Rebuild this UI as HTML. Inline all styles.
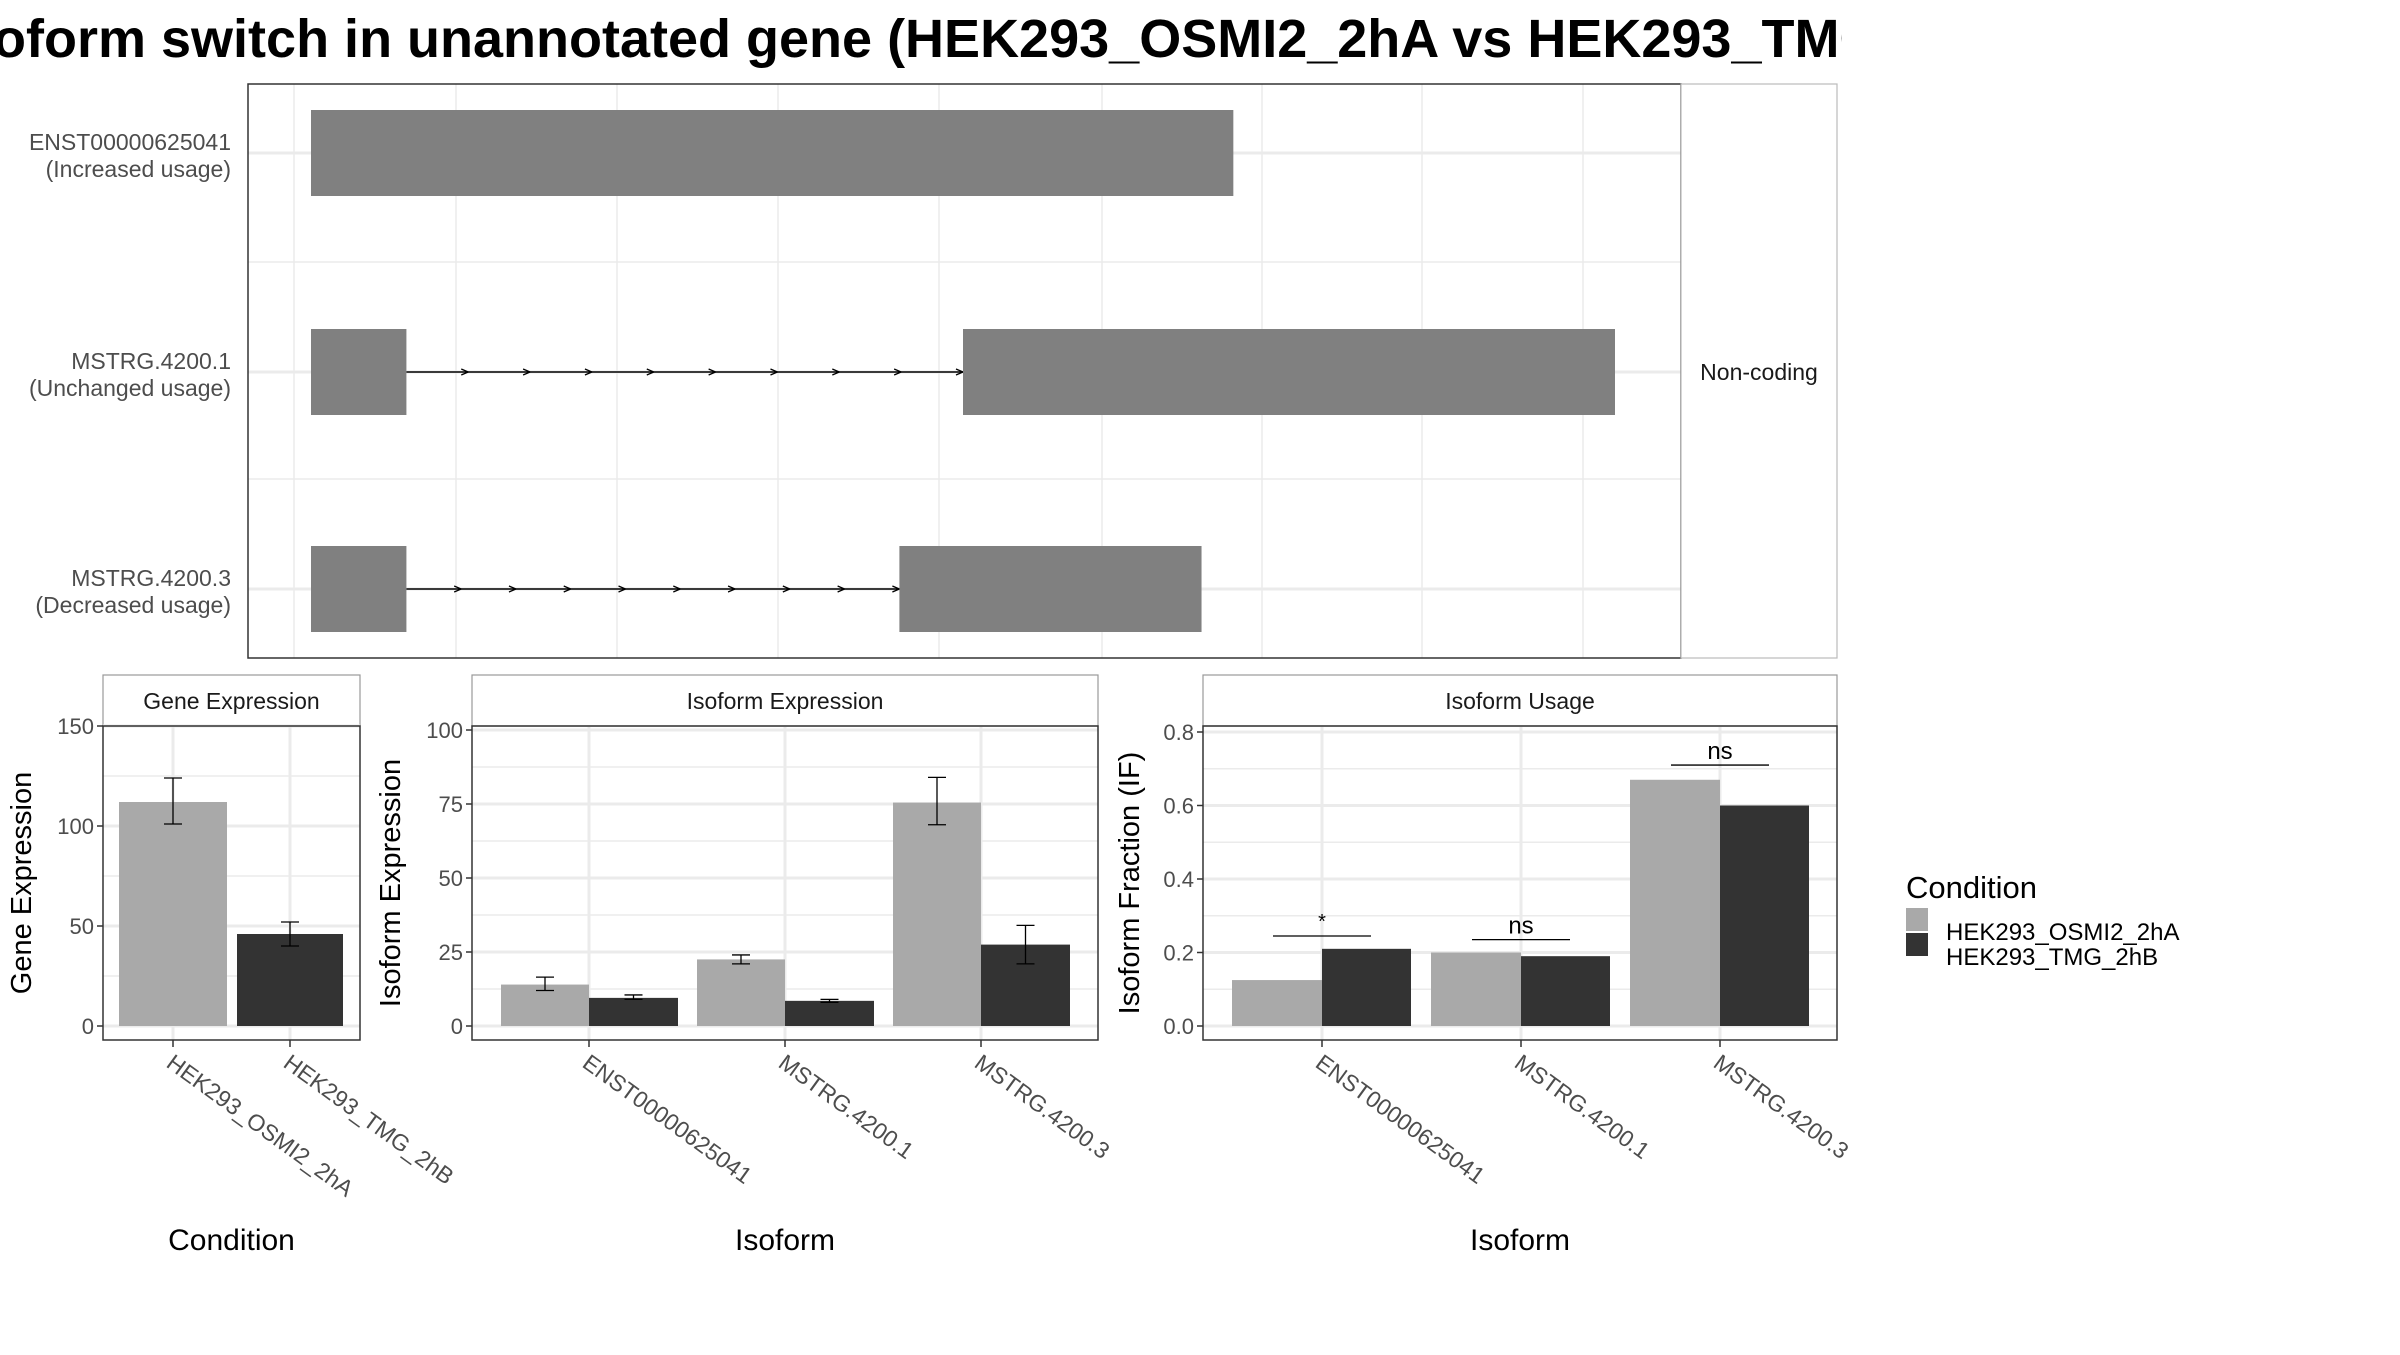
<!DOCTYPE html>
<html><head><meta charset="utf-8"><style>
body{margin:0;background:#fff;width:2400px;height:1350px;overflow:hidden}
svg text{font-family:"Liberation Sans",sans-serif}
</style></head><body>
<svg id="c" width="2400" height="1350" xmlns="http://www.w3.org/2000/svg">
<defs>
<clipPath id="tclip"><rect x="0" y="0" width="1842" height="80"/></clipPath>
<marker id="arr" markerWidth="10" markerHeight="10" refX="8" refY="4" orient="auto" markerUnits="userSpaceOnUse"><path d="M1,1 L8,4 L1,7" fill="none" stroke="#000" stroke-width="1.3"/></marker>
</defs>
<g clip-path="url(#tclip)"><text x="-52" y="57" font-size="54" font-weight="bold" fill="#000">Isoform switch in unannotated gene (HEK293_OSMI2_2hA vs HEK293_TMG_2hB)</text></g>
<g id="topPanel"></g>
<g id="bottomPanels"></g>
<g>
<text x="1906" y="898" font-size="31" fill="#000">Condition</text>
<rect x="1906" y="908" width="22" height="23" fill="#A9A9A9"/>
<rect x="1906" y="933" width="22" height="23" fill="#333333"/>
<text x="1946" y="940" font-size="24" fill="#000">HEK293_OSMI2_2hA</text>
<text x="1946" y="965" font-size="24" fill="#000">HEK293_TMG_2hB</text>
</g>
</svg>
<script>
// ---- Transcript structure data (genomic units) ----
const txNames = ["ENST00000625041","MSTRG.4200.1","MSTRG.4200.3"];
const txSub = ["(Increased usage)","(Unchanged usage)","(Decreased usage)"];
const txExons = [[[1,59]],[[1,7],[42,83]],[[1,7],[38,57]]];
// ---- Expression data ----
const conditions = ["HEK293_OSMI2_2hA","HEK293_TMG_2hB"];
const geneExpr = [112, 46];
const geneLo = [101, 40];
const geneHi = [124, 52];
const isoforms = ["ENST00000625041","MSTRG.4200.1","MSTRG.4200.3"];
const isoExprA = [14, 22.5, 75.5];
const isoExprB = [9.5, 8.5, 27.5];
const isoLoA = [12, 21, 68];
const isoHiA = [16.5, 24, 84];
const isoLoB = [9, 8, 21];
const isoHiB = [10.5, 9, 34];
const ifA = [0.125, 0.2, 0.67];
const ifB = [0.21, 0.19, 0.60];
const sigLabels = ["*","ns","ns"];
const sigY = [0.245, 0.235, 0.71];
const geneTicks = [0,50,100,150];
const isoTicks = [0,25,50,75,100];
const ifTicks = [0,0.2,0.4,0.6,0.8];
const ifTickLabels = ["0.0","0.2","0.4","0.6","0.8"];

const NS="http://www.w3.org/2000/svg";
function mk(tag,attrs,parent,txt){const e=document.createElementNS(NS,tag);for(const k in attrs)e.setAttribute(k,attrs[k]);if(txt!==undefined)e.textContent=txt;parent.appendChild(e);return e;}
const topG=document.getElementById('topPanel'), botG=document.getElementById('bottomPanels');

// Top panel
const TX0=248,TX1=1681,TY0=84,TY1=658;
function gX(v){return 311+(v-1)*((1615-311)/82);}
const rowY=[153,372,589];
let bg=mk('rect',{x:TX0,y:TY0,width:TX1-TX0,height:TY1-TY0,fill:'#fff'},topG);


[294,456,617,778,939,1102,1262,1422,1583].forEach(x=>{const l=mk('line',{x1:x,x2:x,y1:TY0,y2:TY1,stroke:'#ebebeb','stroke-width':1.5},topG);
  
  });
[262,479].forEach(y=>{const l=mk('line',{x1:TX0,x2:TX1,y1:y,y2:y,stroke:'#ebebeb','stroke-width':1.5},topG);
  
  });
rowY.forEach(y=>{const l=mk('line',{x1:TX0,x2:TX1,y1:y,y2:y,stroke:'#ebebeb','stroke-width':3},topG);
  
  });
txExons.forEach((ex,i)=>{
  const y=rowY[i];
  for(let j=0;j<ex.length-1;j++){
    const a=gX(ex[j][1]), b=gX(ex[j+1][0]);
    const n=9, step=(b-a)/n;
    for(let k=0;k<n;k++){
      const l=mk('line',{x1:a+k*step,x2:a+(k+1)*step,y1:y,y2:y,stroke:'#000','stroke-width':1.5,'marker-end':'url(#arr)'},topG);
      
      
    }
  }
  ex.forEach(e=>{const r=mk('rect',{x:gX(e[0]),y:y-43,width:gX(e[1])-gX(e[0]),height:86,fill:'#808080'},topG);
    
    });
  const t1=mk('text',{x:231,y:y-3,'font-size':23,fill:'#4d4d4d','text-anchor':'end'},topG,txNames[i]);
  
  
  const t2=mk('text',{x:231,y:y+24,'font-size':23,fill:'#4d4d4d','text-anchor':'end'},topG,txSub[i]);
  
  
});
let fr=mk('rect',{x:TX0,y:TY0,width:TX1-TX0,height:TY1-TY0,fill:'none',stroke:'#333','stroke-width':1.5},topG);


let st=mk('rect',{x:TX1,y:TY0,width:1837-TX1,height:TY1-TY0,fill:'#fff',stroke:'#bbb','stroke-width':1.2},topG);


let stt=mk('text',{x:1759,y:380,'font-size':23,fill:'#1a1a1a','text-anchor':'middle'},topG,'Non-coding');



// Bottom panels
function panel(o){
  const g=mk('g',{},botG);
  
  
  const y=v=>o.y0-v*o.k;
  const s=mk('rect',{x:o.x0,y:675,width:o.x1-o.x0,height:51,fill:'#fff',stroke:'#999','stroke-width':1.2},g);
  
  
  const sl=mk('text',{x:(o.x0+o.x1)/2,y:709,'font-size':23,fill:'#1a1a1a','text-anchor':'middle'},g,o.strip);
  
  
  o.ticks.forEach((t,i)=>{
    if(i<o.ticks.length-1){const ym=y((t+o.ticks[i+1])/2);const l=mk('line',{x1:o.x0,x2:o.x1,y1:ym,y2:ym,stroke:'#ebebeb','stroke-width':1.5},g);
      
      }
    const l=mk('line',{x1:o.x0,x2:o.x1,y1:y(t),y2:y(t),stroke:'#ebebeb','stroke-width':3},g);
    
    
    const tk=mk('line',{x1:o.x0-6,x2:o.x0,y1:y(t),y2:y(t),stroke:'#333','stroke-width':1.5},g);
    
    
    const tl=mk('text',{x:o.x0-9,y:y(t)+8,'font-size':22,fill:'#4d4d4d','text-anchor':'end'},g,o.tickLabels?o.tickLabels[i]:String(t));
    
    
  });
  o.cats.forEach((c,i)=>{
    const cx=o.catX(i);
    const l=mk('line',{x1:cx,x2:cx,y1:726,y2:1040,stroke:'#ebebeb','stroke-width':3},g);
    
    
  });
  o.bars.forEach(b=>{
    const r=mk('rect',{x:b.x,y:y(b.v),width:b.w,height:y(0)-y(b.v),fill:b.c},g);
    
    
    if(b.lo!==undefined){
      const cx=b.x+b.w/2;
      const e=mk('path',{d:`M${cx-9},${y(b.hi)}H${cx+9}M${cx},${y(b.hi)}V${y(b.lo)}M${cx-9},${y(b.lo)}H${cx+9}`,stroke:'#000','stroke-width':1.3,fill:'none'},g);
      
      
    }
  });
  if(o.extra)o.extra(g,y);
  const f=mk('rect',{x:o.x0,y:726,width:o.x1-o.x0,height:1040-726,fill:'none',stroke:'#333','stroke-width':1.5},g);
  
  
  o.cats.forEach((c,i)=>{
    const cx=o.catX(i);
    const tk=mk('line',{x1:cx,x2:cx,y1:1040,y2:1047,stroke:'#333','stroke-width':1.5},g);
    
    
    const tl=mk('text',{x:cx-8,y:1066,'font-size':23,fill:'#4d4d4d',transform:`rotate(36 ${cx-8} 1066)`},g,c);
    
    
  });
  const xt=mk('text',{x:(o.x0+o.x1)/2,y:1250,'font-size':30,fill:'#000','text-anchor':'middle'},g,o.xtitle);
  
  
  const yt=mk('text',{x:0,y:0,'font-size':29,fill:'#000','text-anchor':'middle',transform:`translate(${o.ytx},${(726+1040)/2}) rotate(-90)`},g,o.ytitle);
  
  
}
const A='#A9A9A9',B='#333333';
panel({name:'gene-expression-panel',x0:103,x1:360,y0:1026,k:2.0,strip:'Gene Expression',ticks:geneTicks,cats:conditions,
  catX:i=>[173,290][i],xtitle:'Condition',ytitle:'Gene Expression',ytx:31,
  bars:geneExpr.map((v,i)=>({x:[119,237][i],w:[108,106][i],v:v,c:i?B:A,lo:geneLo[i],hi:geneHi[i]}))});
const isoBars=[];
isoforms.forEach((c,i)=>{const s=501+i*196;
  isoBars.push({x:s,w:88,v:isoExprA[i],c:A,lo:isoLoA[i],hi:isoHiA[i]});
  isoBars.push({x:s+88,w:89,v:isoExprB[i],c:B,lo:isoLoB[i],hi:isoHiB[i]});});
panel({name:'isoform-expression-panel',x0:472,x1:1098,y0:1026,k:2.96,strip:'Isoform Expression',ticks:isoTicks,cats:isoforms,
  catX:i=>589+i*196,xtitle:'Isoform',ytitle:'Isoform Expression',ytx:400,bars:isoBars});
const ifBars=[];
isoforms.forEach((c,i)=>{const s=1232+i*199;
  ifBars.push({x:s,w:90,v:ifA[i],c:A});
  ifBars.push({x:s+90,w:89,v:ifB[i],c:B});});
panel({name:'isoform-usage-panel',x0:1203,x1:1837,y0:1026,k:367.5,strip:'Isoform Usage',ticks:ifTicks,tickLabels:ifTickLabels,cats:isoforms,
  catX:i=>1322+i*199,xtitle:'Isoform',ytitle:'Isoform Fraction (IF)',ytx:1139,bars:ifBars,
  extra:(g,y)=>{sigLabels.forEach((s,i)=>{const cx=1322+i*199;
    const l=mk('line',{x1:cx-49,x2:cx+49,y1:y(sigY[i]),y2:y(sigY[i]),stroke:'#000','stroke-width':1.3},g);
    
    
    const t=mk('text',{x:cx,y:y(sigY[i])-(s==='*'?8:6),'font-size':s==='*'?20:24,fill:'#000','text-anchor':'middle'},g,s);
    
    });}});
</script>
</body></html>
